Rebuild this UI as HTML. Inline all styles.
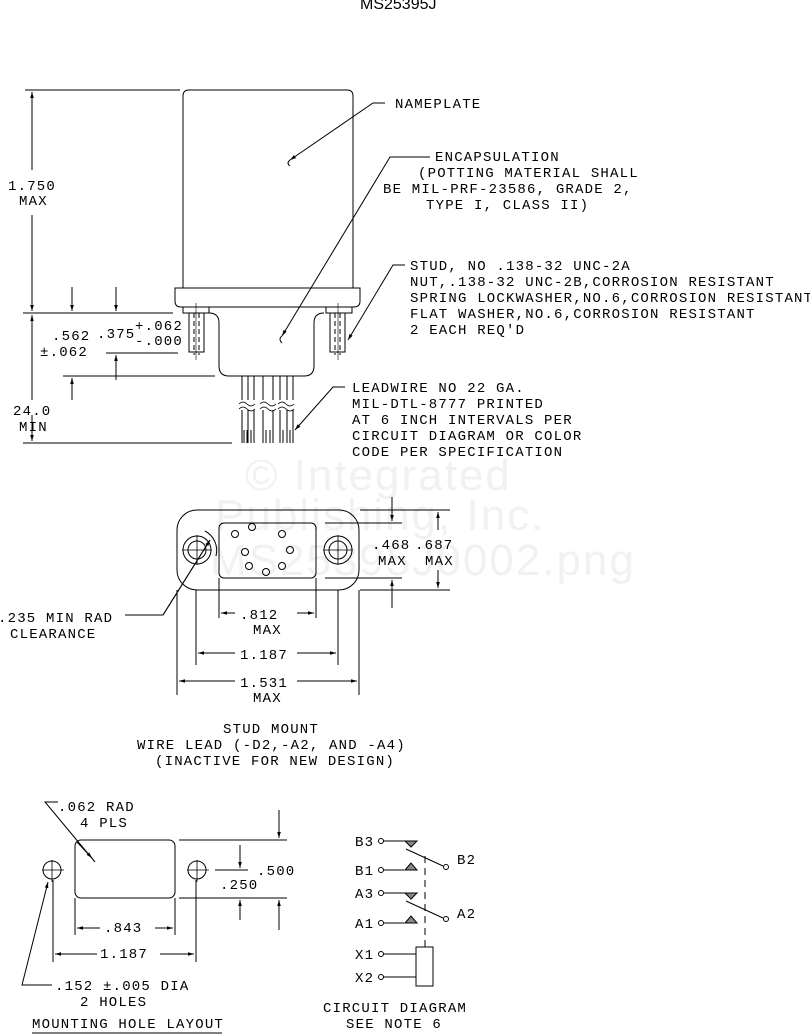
<!DOCTYPE html>
<html><head><meta charset="utf-8"><style>
html,body{margin:0;padding:0;background:#fff;}
svg{display:block;}
text{font-family:"Liberation Mono",monospace;font-size:14px;letter-spacing:1.2px;fill:#000;}
.wm{font-family:"Liberation Sans",sans-serif;font-size:44px;fill:#f1f1f1;letter-spacing:2px;}
</style></head><body>
<svg width="810" height="1035" viewBox="0 0 810 1035" xmlns="http://www.w3.org/2000/svg">
<defs>
<marker id="a" viewBox="0 0 10 10" refX="10" refY="5" markerWidth="10" markerHeight="6" orient="auto-start-reverse" markerUnits="userSpaceOnUse"><path d="M0,2 L10,5 L0,8 z" fill="#000"/></marker>
</defs>
<text class="wm" x="245" y="490">© Integrated</text>
<text class="wm" x="215" y="530">Publishing, Inc.</text>
<text class="wm" x="210" y="575">MS25395J0002.png</text>
<text x="360" y="9" style="font-family:'Liberation Sans',sans-serif;letter-spacing:0;font-size:16px">MS25395J</text>
<g fill="none" stroke="#000" stroke-width="1">
<path d="M183,96 Q183,90 189,90 L347,90 Q353,90 353,96 L353,288"/>
<path d="M183,96 L183,288"/>
<path d="M175,288 L360,288 L360,301 Q360,307 354,307 L181,307 Q175,307 175,301 Z"/>
<rect x="183" y="307" width="26" height="6"/>
<rect x="326" y="307" width="26" height="6"/>
<rect x="189" y="313" width="15" height="39"/>
<rect x="330" y="313" width="15" height="39"/>
<path d="M194,313 V355 M199,313 V355 M335,313 V355 M340,313 V355" stroke-dasharray="5,3"/>
<path d="M196,303 V360 M338,303 V360" stroke-width="0.6"/>
<path d="M209,313 Q219,313 219,323 L219,366 Q219,376 229,376 L304,376 Q314,376 314,366 L314,323 Q314,313 324,313"/>
<path d="M242,376 V400 M248,376 V400 M254,376 V400 M263,376 V400 M273,376 V400 M280,376 V400 M287,376 V400 M293,376 V400"/>
<path d="M242,410 V443 M248,410 V443 M254,410 V443 M263,410 V443 M273,410 V443 M280,410 V443 M287,410 V443 M293,410 V443"/>
<path d="M244,430 V443 M247,430 V443 M251,430 V443 M266,430 V443 M270,430 V443 M283,430 V443 M290,430 V443"/>
<path d="M239,404 q4,-4 8,0 t8,0 M239,409 q4,-4 8,0 t8,0 M260,404 q4,-4 8,0 t8,0 M260,409 q4,-4 8,0 t8,0 M278,404 q4,-4 8,0 t8,0 M278,409 q4,-4 8,0 t8,0" stroke-width="0.8"/>
<path d="M25,90 H180 M23,313 H173 M63,376 H215 M23,443 H232 M106,353 H178"/>
<path d="M32,170 V92" marker-end="url(#a)"/><path d="M32,215 V311" marker-end="url(#a)"/>
<path d="M32,400 V315" marker-end="url(#a)"/>
<path d="M32,415 V441" marker-end="url(#a)"/>
<path d="M72,287 V311" marker-end="url(#a)"/><path d="M72,400 V378" marker-end="url(#a)"/>
<path d="M116,287 V311" marker-end="url(#a)"/><path d="M116,380 V355" marker-end="url(#a)"/>
<path d="M385,103 H373 L290,160" marker-end="url(#a)"/><path d="M290,160 q-4,3 0,6"/>
<path d="M430,157 H390 L282,336" marker-end="url(#a)"/><path d="M282,336 q-4,3 0,7"/>
<path d="M405,265 H393 L348,340" marker-end="url(#a)"/>
<path d="M345,387 H333 L295,430" marker-end="url(#a)"/>
<rect x="177" y="510" width="182" height="80" rx="20"/>
<rect x="219" y="523" width="97" height="55" rx="5"/>
<circle cx="197" cy="550" r="14"/><circle cx="197" cy="550" r="9"/>
<circle cx="338" cy="550" r="14"/><circle cx="338" cy="550" r="9"/>
<path d="M182,550 H212 M197,535 V565 M323,550 H353 M338,535 V565" stroke-width="0.8"/>
<path d="M205,531 A22,22 0 0 1 216,556"/>
<circle cx="252" cy="527" r="3.5"/><circle cx="235" cy="534" r="3.5"/><circle cx="282" cy="534" r="3.5"/>
<circle cx="245" cy="552" r="3.5"/><circle cx="290" cy="550" r="3.5"/><circle cx="249" cy="566" r="3.5"/>
<circle cx="282" cy="566" r="3.5"/><circle cx="266" cy="572" r="3.5"/>
<path d="M210,540 L163,615 H125" /><path d="M163,615 L210,540" marker-end="url(#a)"/>
<path d="M360,510 H450 M325,523 H402 M325,578 H402 M360,590 H450"/>
<path d="M392,497 V521" marker-end="url(#a)"/><path d="M392,608 V580" marker-end="url(#a)"/>
<path d="M438,530 V512" marker-end="url(#a)"/><path d="M438,570 V588" marker-end="url(#a)"/>
<path d="M219,578 V618 M316,578 V618 M196,590 V665 M338,590 V665 M177,590 V695 M359,590 V695"/>
<path d="M235,613 H221" marker-end="url(#a)"/><path d="M297,613 H314" marker-end="url(#a)"/>
<path d="M235,653 H198" marker-end="url(#a)"/><path d="M297,653 H336" marker-end="url(#a)"/>
<path d="M235,681 H179" marker-end="url(#a)"/><path d="M297,681 H357" marker-end="url(#a)"/>
<rect x="75" y="840" width="100" height="58" rx="6"/>
<circle cx="52" cy="870" r="9"/><circle cx="197" cy="870" r="9"/>
<path d="M42,870 H64 M52,860 V882 M187,870 H209 M197,860 V882" stroke-width="0.8"/>
<path d="M58,802 H45 L95,862"/><path d="M92,858 L77,842" marker-start="url(#a)"/>
<path d="M179,840 H287 M179,898 H287 M215,870 H248"/>
<path d="M279,810 V838" marker-end="url(#a)"/><path d="M279,930 V900" marker-end="url(#a)"/>
<path d="M240,845 V868" marker-end="url(#a)"/><path d="M240,920 V900" marker-end="url(#a)"/>
<path d="M75,898 V935 M175,898 V935 M53,880 V962 M196,880 V962"/>
<path d="M100,928 H77" marker-end="url(#a)"/><path d="M155,928 H173" marker-end="url(#a)"/>
<path d="M97,954 H55" marker-end="url(#a)"/><path d="M160,954 H194" marker-end="url(#a)"/>
<path d="M52,985 H22 L48,882" marker-end="url(#a)"/>
<path d="M32,1033 H222"/>
<circle cx="381" cy="841" r="2.5"/><path d="M383.5,841 H405"/><path d="M405,841 L411,847 L417,841 Z" fill="#888"/>
<path d="M406,849 L443,866"/><circle cx="446" cy="867" r="2.5"/>
<circle cx="381" cy="870" r="2.5"/><path d="M383.5,870 H404"/><path d="M405,870 L411,863 L417,870 Z" fill="#888"/>
<circle cx="381" cy="893" r="2.5"/><path d="M383.5,893 H405"/><path d="M405,893 L411,899 L417,893 Z" fill="#888"/>
<path d="M406,901 L443,918"/><circle cx="446" cy="919" r="2.5"/>
<circle cx="381" cy="923" r="2.5"/><path d="M383.5,923 H404"/><path d="M405,923 L411,916 L417,923 Z" fill="#888"/>
<path d="M425,856 V947" stroke-dasharray="7,5"/>
<rect x="416" y="947" width="17" height="39"/>
<circle cx="381" cy="954" r="2.5"/><path d="M383.5,954 H416"/>
<circle cx="381" cy="977" r="2.5"/><path d="M383.5,977 H416"/>
</g>
<text x="8" y="190">1.750</text><text x="19" y="205">MAX</text>
<text x="52" y="340">.562</text><text x="40" y="356">±.062</text>
<text x="97" y="338">.375</text><text x="135" y="330">+.062</text><text x="135" y="345">-.000</text>
<text x="13" y="415">24.0</text><text x="19" y="431">MIN</text>
<text x="395" y="108">NAMEPLATE</text>
<text x="435" y="161">ENCAPSULATION</text>
<text x="418" y="177">(POTTING MATERIAL SHALL</text>
<text x="383" y="193">BE MIL-PRF-23586, GRADE 2,</text>
<text x="426" y="209">TYPE I, CLASS II)</text>
<text x="410" y="270">STUD, NO .138-32 UNC-2A</text>
<text x="410" y="286">NUT,.138-32 UNC-2B,CORROSION RESISTANT</text>
<text x="410" y="302">SPRING LOCKWASHER,NO.6,CORROSION RESISTANT</text>
<text x="410" y="318">FLAT WASHER,NO.6,CORROSION RESISTANT</text>
<text x="410" y="334">2 EACH REQ'D</text>
<text x="352" y="392">LEADWIRE NO 22 GA.</text>
<text x="352" y="408">MIL-DTL-8777 PRINTED</text>
<text x="352" y="424">AT 6 INCH INTERVALS PER</text>
<text x="352" y="440">CIRCUIT DIAGRAM OR COLOR</text>
<text x="352" y="456">CODE PER SPECIFICATION</text>
<text x="372" y="549">.468</text><text x="378" y="565">MAX</text>
<text x="415" y="549">.687</text><text x="425" y="565">MAX</text>
<text x="240" y="619">.812</text><text x="253" y="634">MAX</text>
<text x="240" y="659">1.187</text>
<text x="240" y="687">1.531</text><text x="253" y="702">MAX</text>
<text x="-2" y="622">.235 MIN RAD</text><text x="10" y="638">CLEARANCE</text>
<text x="223" y="733">STUD MOUNT</text>
<text x="137" y="749">WIRE LEAD (-D2,-A2, AND -A4)</text>
<text x="155" y="765">(INACTIVE FOR NEW DESIGN)</text>
<text x="58" y="811">.062 RAD</text><text x="80" y="827">4 PLS</text>
<text x="220" y="889">.250</text><text x="257" y="875">.500</text>
<text x="104" y="932">.843</text>
<text x="100" y="958">1.187</text>
<text x="55" y="990">.152 ±.005 DIA</text><text x="80" y="1006">2 HOLES</text>
<text x="32" y="1028">MOUNTING HOLE LAYOUT</text>
<text x="355" y="846">B3</text><text x="355" y="875">B1</text><text x="355" y="898">A3</text><text x="355" y="928">A1</text>
<text x="457" y="864">B2</text><text x="457" y="918">A2</text>
<text x="355" y="959">X1</text><text x="355" y="982">X2</text>
<text x="323" y="1012">CIRCUIT DIAGRAM</text>
<text x="346" y="1028">SEE NOTE 6</text>
</svg>
</body></html>
